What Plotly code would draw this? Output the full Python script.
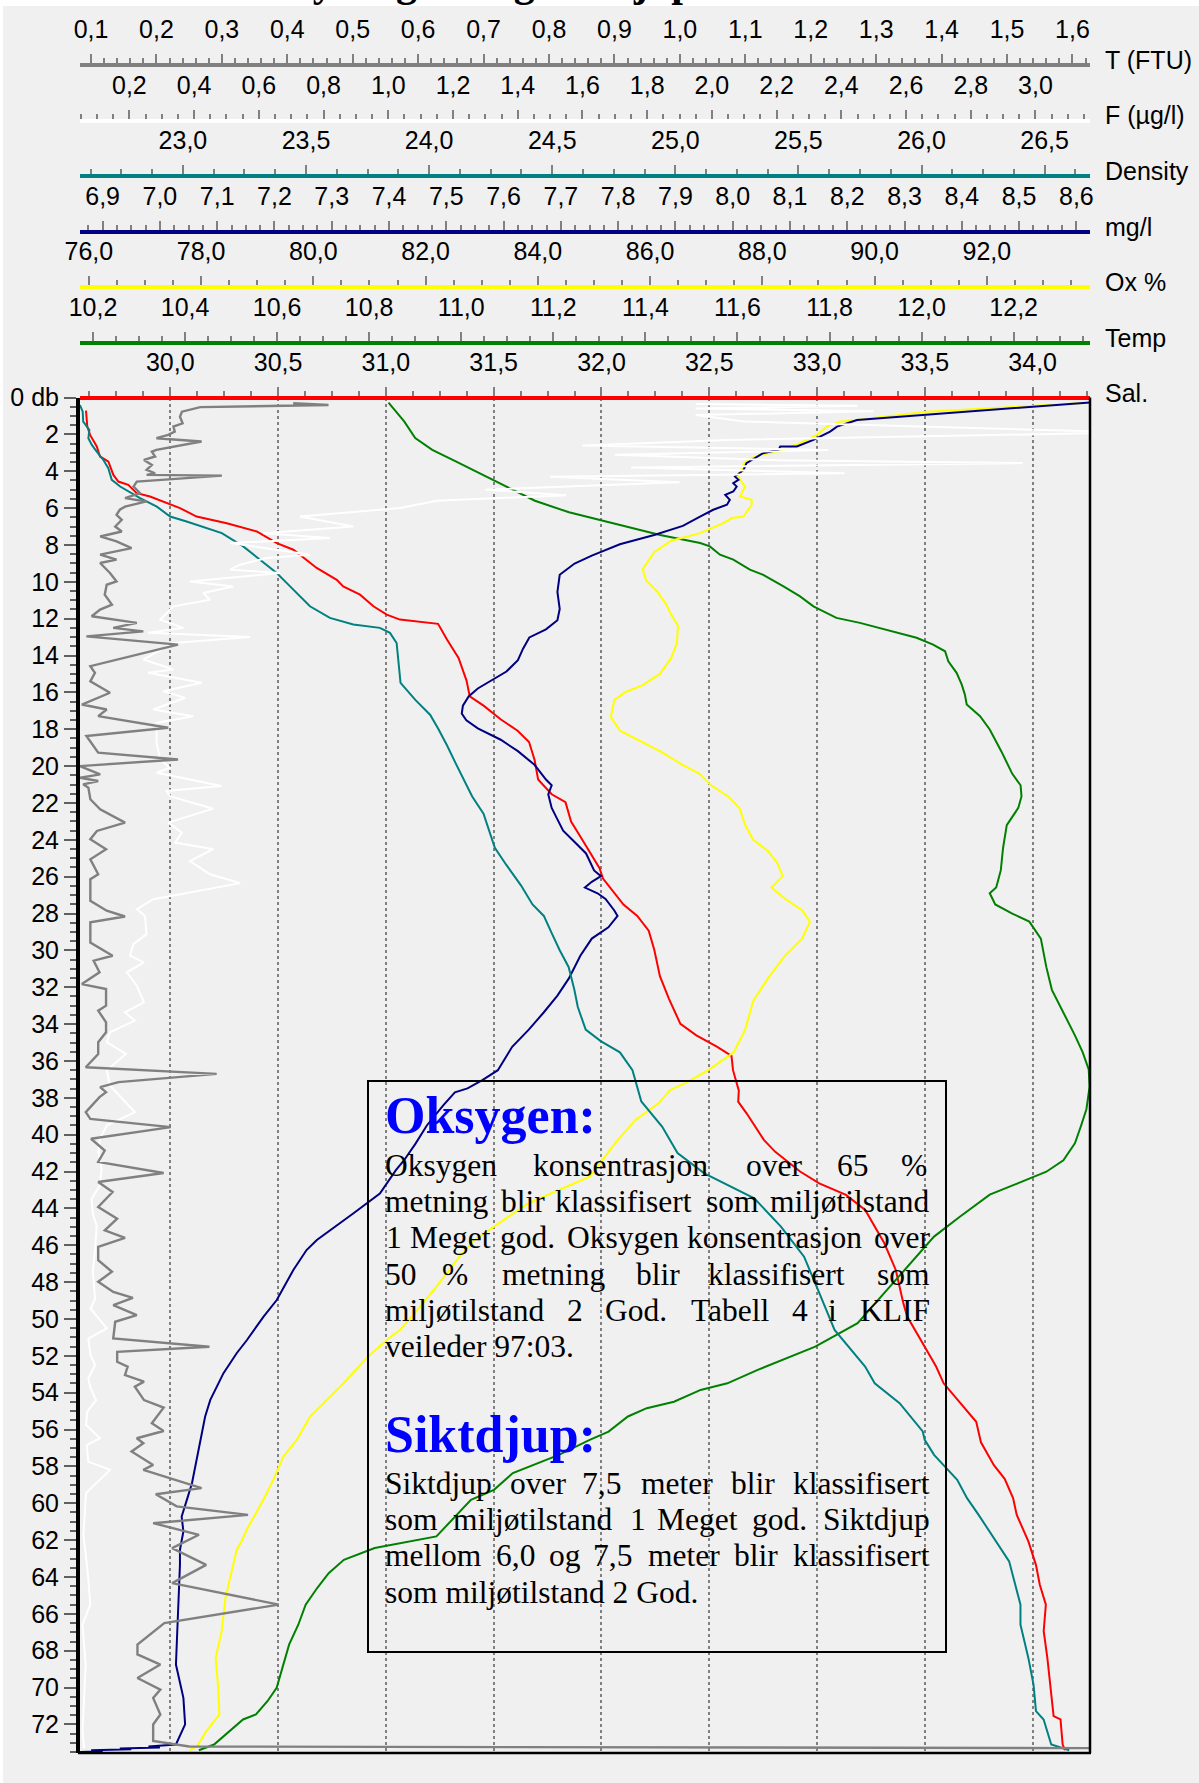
import plotly.graph_objects as go

W, H = 1199, 1783

# ---------------- data: (depth [db], value) ----------------
SAL = [(0.71, 29.609), (1.58, 29.615), (2.03, 29.628), (2.66, 29.659), (3.2, 29.674), (3.48, 29.713),
       (4.2, 29.736), (4.56, 29.759), (4.74, 29.805), (5.19, 29.844), (5.37, 29.906), (5.73, 29.983),
       (6.0, 30.045), (6.46, 30.122), (6.82, 30.262), (7.27, 30.401), (7.9, 30.494), (8.26, 30.571),
       (9.25, 30.679), (9.89, 30.772), (10.25, 30.802), (10.7, 30.880), (11.33, 30.942), (11.78, 31.004),
       (12.05, 31.065), (12.28, 31.242), (13.14, 31.284), (14.13, 31.337), (15.36, 31.374), (16.22, 31.389),
       (16.72, 31.453), (17.46, 31.532), (18.08, 31.611), (18.69, 31.664), (19.68, 31.690), (20.73, 31.706),
       (21.53, 31.769), (21.96, 31.833), (23.01, 31.859), (23.81, 31.901), (24.61, 31.944), (25.54, 31.991),
       (26.1, 32.007), (26.9, 32.06), (27.51, 32.102), (28.13, 32.166), (28.93, 32.219), (29.98, 32.245),
       (31.4, 32.271), (32.63, 32.313), (33.99, 32.366), (34.61, 32.44), (35.22, 32.535), (35.72, 32.603),
       (36.5, 32.61), (37.61, 32.637), (38.21, 32.634), (38.84, 32.673), (40.28, 32.753), (40.93, 32.806),
       (41.65, 32.886), (42.0, 32.921), (42.64, 33.01), (43.27, 33.134), (44.08, 33.223), (45.89, 33.312),
       (47.34, 33.365), (49.14, 33.40), (49.87, 33.418), (51.5, 33.498), (52.58, 33.552), (53.49, 33.587),
       (54.57, 33.663), (55.58, 33.738), (56.69, 33.76), (57.93, 33.82), (58.67, 33.87), (59.72, 33.909),
       (60.63, 33.926), (62.07, 33.98), (63.34, 34.015), (64.42, 34.033), (65.5, 34.061), (66.94, 34.051),
       (68.39, 34.068), (70.2, 34.086), (71.55, 34.097), (71.73, 34.129), (73.09, 34.139), (73.4, 34.15)]

TEMP = [(0.28, 10.842), (1.3, 10.876), (2.2, 10.90), (2.84, 10.937), (3.45, 10.987), (4.07, 11.036),
        (4.69, 11.085), (5.3, 11.135), (5.6, 11.16), (6.23, 11.234), (6.54, 11.283), (6.85, 11.333),
        (7.16, 11.382), (7.46, 11.432), (7.9, 11.519), (8.08, 11.54), (8.53, 11.562), (8.8, 11.591),
        (9.34, 11.627), (9.62, 11.656), (10.25, 11.7), (10.79, 11.736), (11.33, 11.765), (11.96, 11.815),
        (12.23, 11.866), (12.69, 11.938), (13.04, 11.989), (13.41, 12.025), (13.77, 12.051), (14.31, 12.058),
        (14.94, 12.076), (15.57, 12.087), (16.12, 12.094), (16.66, 12.098), (17.29, 12.127), (18.01, 12.148),
        (19.19, 12.173), (20.42, 12.197), (21.04, 12.215), (21.65, 12.217), (22.27, 12.21), (23.2, 12.185),
        (24.43, 12.177), (25.66, 12.172), (26.59, 12.162), (26.9, 12.148), (27.51, 12.16), (28.0, 12.197),
        (28.44, 12.234), (29.36, 12.259), (30.91, 12.271), (32.14, 12.283), (33.37, 12.308), (34.61, 12.333),
        (35.53, 12.35), (36.46, 12.363), (37.38, 12.365), (38.62, 12.358), (39.54, 12.346), (40.47, 12.333),
        (41.39, 12.308), (42.01, 12.271), (42.63, 12.21), (43.25, 12.148), (44.45, 12.083), (45.53, 12.027),
        (47.88, 11.944), (50.23, 11.861), (51.5, 11.769), (52.76, 11.644), (53.49, 11.578), (53.85, 11.52),
        (54.49, 11.462), (54.84, 11.403), (55.29, 11.362), (56.11, 11.32), (56.56, 11.279), (57.37, 11.212),
        (58.36, 11.112), (59.27, 11.071), (59.81, 11.021), (61.8, 10.946), (62.43, 10.812), (63.07, 10.745),
        (63.79, 10.712), (64.6, 10.687), (65.5, 10.662), (66.59, 10.646), (67.67, 10.626), (68.75, 10.613),
        (70.01, 10.599), (70.74, 10.579), (71.46, 10.554), (71.73, 10.526), (72.55, 10.488), (73.09, 10.463),
        (73.4, 10.43)]

OX = [(0.28, 93.9), (0.77, 90.928), (1.22, 89.681), (1.31, 89.384), (1.58, 89.147), (2.03, 88.969),
      (2.48, 88.671), (2.94, 88.255), (3.11, 87.958), (3.39, 87.721), (3.66, 87.661), (4.2, 87.572),
      (4.47, 87.602), (4.83, 87.691), (5.37, 87.602), (5.55, 87.81), (5.82, 87.81), (6.46, 87.661),
      (6.54, 87.454), (6.82, 87.304), (7.36, 86.889), (7.77, 86.376), (8.39, 86.072), (9.32, 85.869),
      (9.93, 85.93), (10.55, 86.133), (11.17, 86.275), (11.78, 86.376), (12.4, 86.498), (13.33, 86.477),
      (14.13, 86.376), (15.0, 86.173), (15.61, 85.869), (15.98, 85.565), (16.41, 85.362), (17.34, 85.301),
      (18.08, 85.463), (18.57, 85.767), (19.19, 86.173), (19.93, 86.578), (20.42, 86.882), (21.04, 87.085),
      (21.65, 87.39), (22.27, 87.593), (23.2, 87.694), (24.0, 87.836), (24.61, 88.099), (25.23, 88.261),
      (25.97, 88.363), (26.59, 88.16), (27.2, 88.403), (27.82, 88.707), (28.44, 88.849), (29.36, 88.707),
      (30.29, 88.403), (31.52, 88.099), (32.76, 87.836), (34.3, 87.694), (35.53, 87.491), (36.5, 87.036),
      (37.2, 86.627), (37.58, 86.356), (38.3, 86.151), (39.2, 85.739), (40.38, 85.399), (42.28, 84.923),
      (43.0, 84.377), (43.72, 83.832), (44.99, 83.22), (45.71, 82.877), (46.62, 82.604), (48.25, 82.195),
      (49.51, 81.854), (50.6, 81.544), (50.96, 81.378), (52.0, 80.99), (53.5, 80.534), (54.4, 80.238),
      (55.3, 79.941), (56.56, 79.704), (57.47, 79.465), (58.73, 79.287), (59.81, 79.109), (61.44, 78.813),
      (62.07, 78.72), (62.52, 78.635), (63.34, 78.573), (65.14, 78.435), (66.94, 78.368), (68.39, 78.259),
      (69.84, 78.30), (71.46, 78.327), (72.36, 78.095), (73.17, 77.931), (73.4, 77.8)]

MGL = [(0.25, 8.63), (1.22, 8.217), (1.58, 8.182), (1.85, 8.17), (2.3, 8.141), (2.66, 8.112), (2.66, 8.083),
       (2.84, 8.08), (3.02, 8.053), (3.56, 8.024), (3.93, 8.019), (4.2, 8.007), (4.29, 8.004), (4.47, 8.01),
       (4.65, 8.001), (4.83, 8.007), (5.1, 8.001), (5.28, 7.987), (5.55, 7.995), (5.82, 7.99), (6.09, 7.966),
       (6.46, 7.943), (6.97, 7.913), (7.46, 7.863), (7.96, 7.803), (8.58, 7.754), (9.01, 7.724), (9.62, 7.698),
       (10.55, 7.694), (11.47, 7.698), (12.09, 7.694), (12.58, 7.674), (13.02, 7.645), (13.63, 7.634),
       (14.25, 7.625), (14.87, 7.605), (15.36, 7.579), (15.79, 7.555), (16.22, 7.539), (16.72, 7.529),
       (17.15, 7.527), (17.52, 7.535), (17.95, 7.555), (18.57, 7.595), (19.19, 7.625), (19.93, 7.654),
       (20.73, 7.674), (21.04, 7.684), (21.53, 7.678), (22.27, 7.684), (22.89, 7.694), (23.5, 7.704),
       (24.12, 7.724), (24.74, 7.744), (25.66, 7.758), (25.97, 7.77), (26.28, 7.754), (26.59, 7.742),
       (26.9, 7.764), (27.21, 7.778), (27.82, 7.793), (28.13, 7.799), (28.75, 7.783), (29.36, 7.754),
       (30.29, 7.734), (31.52, 7.714), (32.45, 7.694), (33.37, 7.67), (34.3, 7.644), (35.23, 7.615),
       (36.5, 7.59), (37.04, 7.563), (37.49, 7.537), (37.7, 7.515), (38.4, 7.495), (39.5, 7.466),
       (40.5, 7.446), (41.4, 7.426), (41.92, 7.412), (43.2, 7.384), (44.26, 7.338), (45.17, 7.297),
       (45.71, 7.274), (46.26, 7.256), (46.8, 7.245), (47.34, 7.233), (48.97, 7.204), (49.87, 7.181),
       (51.14, 7.152), (51.86, 7.134), (52.94, 7.111), (54.39, 7.088), (55.29, 7.079), (56.74, 7.07),
       (58.01, 7.061), (58.91, 7.056), (59.72, 7.048), (60.72, 7.038), (61.53, 7.041), (62.52, 7.035),
       (63.34, 7.035), (66.94, 7.031), (68.75, 7.028), (70.56, 7.041), (72.0, 7.044), (73.09, 7.028),
       (73.2, 6.98), (73.25, 7.0), (73.3, 6.93), (73.35, 6.95), (73.4, 6.88), (73.45, 6.9), (73.5, 6.86)]

DENS = [(0.41, 22.582), (0.77, 22.593), (1.31, 22.595), (1.76, 22.62), (2.21, 22.616), (2.57, 22.63),
        (2.94, 22.65), (3.39, 22.677), (3.84, 22.697), (4.47, 22.711), (4.83, 22.745), (5.1, 22.778),
        (5.46, 22.826), (5.92, 22.894), (6.46, 22.948), (6.73, 23.015), (7.36, 23.158), (8.08, 23.245),
        (8.98, 23.327), (9.52, 23.381), (10.07, 23.422), (10.43, 23.448), (11.33, 23.516), (11.96, 23.597),
        (12.32, 23.692), (12.5, 23.80), (12.77, 23.841), (13.32, 23.868), (14.22, 23.875), (15.48, 23.884),
        (16.41, 23.944), (17.21, 24.004), (17.95, 24.036), (18.88, 24.073), (19.8, 24.106), (20.73, 24.142),
        (21.65, 24.175), (22.58, 24.221), (23.5, 24.244), (24.43, 24.267), (25.35, 24.313), (26.47, 24.373),
        (27.51, 24.42), (28.13, 24.466), (29.06, 24.498), (29.98, 24.53), (30.91, 24.567), (32.14, 24.59),
        (33.07, 24.604), (34.3, 24.636), (34.92, 24.697), (35.53, 24.775), (36.5, 24.826), (38.2, 24.862),
        (39.57, 24.947), (41.0, 25.009), (42.1, 25.118), (42.73, 25.212), (43.45, 25.321), (44.99, 25.429),
        (46.62, 25.523), (48.6, 25.585), (50.59, 25.647), (52.58, 25.771), (53.49, 25.81), (54.57, 25.911),
        (56.1, 26.005), (56.56, 26.013), (57.37, 26.051), (58.73, 26.145), (59.72, 26.185), (60.63, 26.232),
        (61.89, 26.294), (63.15, 26.356), (65.5, 26.402), (66.59, 26.402), (68.39, 26.434), (69.84, 26.455),
        (71.28, 26.465), (71.73, 26.496), (73.09, 26.527), (73.4, 26.6)]

FLUO = [(0.35, 1.95), (0.45, 2.45), (0.6, 1.95), (0.75, 2.5), (0.95, 1.95), (1.3, 2.1), (1.9, 3.3),
        (2.3, 2.05), (2.6, 1.6), (2.85, 2.36), (3.1, 1.7), (3.4, 2.2), (3.56, 2.96), (3.8, 1.75),
        (4.11, 2.41), (4.3, 1.5), (4.6, 1.9), (5.0, 1.3), (5.3, 1.55), (5.6, 1.15), (6.0, 1.036),
        (6.46, 0.727), (7.0, 0.892), (7.36, 0.614), (7.63, 0.82), (7.9, 0.511), (8.53, 0.758), (8.71, 0.624),
        (9.07, 0.542), (9.34, 0.511), (9.52, 0.665), (9.98, 0.387), (10.25, 0.521), (10.61, 0.428),
        (10.97, 0.449), (11.33, 0.336), (12.05, 0.295), (12.5, 0.367), (12.77, 0.258), (12.99, 0.573),
        (13.32, 0.336), (14.22, 0.243), (14.76, 0.336), (14.94, 0.258), (15.48, 0.423), (15.94, 0.305),
        (16.29, 0.372), (16.93, 0.274), (17.29, 0.397), (17.65, 0.284), (18.73, 0.284), (19.64, 0.295),
        (20.09, 0.325), (20.36, 0.284), (21.08, 0.485), (21.35, 0.315), (21.63, 0.325), (22.31, 0.459),
        (23.07, 0.320), (23.61, 0.362), (24.15, 0.341), (24.51, 0.459), (25.15, 0.387), (25.87, 0.449),
        (26.35, 0.542), (27.22, 0.274), (27.76, 0.223), (28.13, 0.248), (29.12, 0.253), (29.66, 0.212),
        (30.29, 0.202), (30.65, 0.245), (31.19, 0.192), (31.92, 0.223), (32.82, 0.245), (33.36, 0.186),
        (33.81, 0.217), (34.44, 0.14), (34.98, 0.13), (35.62, 0.189), (36.52, 0.13), (37.33, 0.14),
        (38.78, 0.217), (39.5, 0.13), (40.22, 0.109), (40.94, 0.104), (41.85, 0.114), (42.75, 0.109),
        (43.47, 0.083), (44.38, 0.088), (44.92, 0.099), (45.82, 0.097), (46.18, 0.094), (47.44, 0.087),
        (48.9, 0.094), (49.43, 0.080), (50.51, 0.13), (51.06, 0.073), (51.96, 0.080), (52.5, 0.094),
        (53.22, 0.073), (53.76, 0.080), (54.4, 0.097), (55.03, 0.070), (55.75, 0.066), (56.47, 0.109),
        (56.84, 0.068), (57.74, 0.073), (58.19, 0.14), (59.45, 0.066), (60.63, 0.063), (61.71, 0.058),
        (63.88, 0.072), (65.5, 0.079), (66.59, 0.055), (68.75, 0.065), (70.56, 0.06), (72.36, 0.055),
        (73.3, 0.06)]

TURB = [(0.31, 0.409), (0.41, 0.463), (0.52, 0.267), (0.77, 0.239), (1.04, 0.236), (1.4, 0.240),
        (1.58, 0.226), (1.85, 0.228), (2.03, 0.218), (2.21, 0.200), (2.39, 0.269), (2.84, 0.200),
        (2.94, 0.193), (3.2, 0.198), (3.39, 0.181), (3.66, 0.193), (3.93, 0.185), (4.11, 0.198),
        (4.2, 0.185), (4.24, 0.300), (4.56, 0.170), (4.83, 0.165), (5.19, 0.175), (5.46, 0.152),
        (5.64, 0.185), (5.92, 0.152), (6.09, 0.144), (6.37, 0.139), (6.64, 0.147), (7.0, 0.137),
        (7.27, 0.147), (7.54, 0.114), (7.81, 0.139), (8.17, 0.162), (8.53, 0.114), (8.8, 0.139),
        (8.98, 0.114), (9.52, 0.129), (9.98, 0.139), (10.16, 0.124), (10.7, 0.121), (11.24, 0.132),
        (11.51, 0.114), (11.87, 0.101), (12.23, 0.170), (12.5, 0.134), (12.69, 0.180), (12.96, 0.093),
        (13.41, 0.233), (14.58, 0.099), (14.94, 0.106), (15.4, 0.099), (16.02, 0.129), (16.66, 0.086),
        (16.93, 0.124), (17.29, 0.111), (17.92, 0.218), (18.37, 0.093), (19.27, 0.111), (19.64, 0.233),
        (20.0, 0.083), (20.45, 0.114), (20.63, 0.083), (20.81, 0.111), (20.99, 0.088), (21.17, 0.096),
        (21.8, 0.099), (22.35, 0.114), (23.07, 0.152), (23.52, 0.109), (23.97, 0.099), (24.51, 0.123),
        (25.06, 0.099), (25.87, 0.111), (26.14, 0.099), (27.31, 0.099), (27.85, 0.124), (28.16, 0.152),
        (28.48, 0.099), (29.57, 0.099), (30.29, 0.133), (30.56, 0.104), (31.19, 0.113), (31.83, 0.086),
        (32.1, 0.123), (33.0, 0.123), (33.27, 0.111), (33.9, 0.123), (34.44, 0.123), (34.98, 0.111),
        (35.62, 0.111), (36.34, 0.092), (36.7, 0.292), (37.15, 0.142), (37.42, 0.114), (37.69, 0.123),
        (37.96, 0.113), (38.78, 0.092), (39.14, 0.099), (39.59, 0.222), (40.22, 0.100), (40.86, 0.121),
        (41.48, 0.111), (42.08, 0.211), (42.57, 0.111), (43.11, 0.133), (43.92, 0.111), (44.56, 0.140),
        (45.19, 0.121), (45.6, 0.152), (46.09, 0.111), (46.81, 0.111), (47.44, 0.132), (47.98, 0.111),
        (48.53, 0.134), (48.85, 0.164), (49.25, 0.134), (49.79, 0.170), (50.15, 0.137), (51.06, 0.134),
        (51.51, 0.281), (51.78, 0.140), (52.32, 0.140), (52.59, 0.156), (53.04, 0.152), (53.4, 0.181),
        (53.67, 0.167), (54.4, 0.181), (54.81, 0.211), (55.66, 0.193), (56.08, 0.211), (56.47, 0.170),
        (56.74, 0.180), (57.19, 0.162), (57.92, 0.195), (58.19, 0.180), (59.18, 0.269), (59.51, 0.199),
        (60.17, 0.231), (60.63, 0.340), (61.08, 0.195), (61.71, 0.265), (62.43, 0.224), (63.34, 0.276),
        (64.33, 0.224), (65.5, 0.387), (66.5, 0.212), (67.67, 0.171), (68.2, 0.171), (68.75, 0.206),
        (69.48, 0.171), (70.11, 0.206), (70.56, 0.195), (71.46, 0.206), (72.0, 0.195), (72.9, 0.195),
        (73.2, 0.25), (73.3, 1.9)]

DEPTH_TICKS = list(range(0, 73, 2))
DEPTH_LABELS = ["0 db"] + [str(v) for v in DEPTH_TICKS[1:]]

# axis definitions: name, label, colour, line y (px), range, dtick, minor dtick
AXES = [
    ("x7", "T (FTU)", "#808080", 65.0, [0.08319, 1.6268], 0.1, 0.02),
    ("x6", "F (µg/l)", "#FFFFFF", 120.5, [0.04734, 3.1685], 0.2, 0.05),
    ("x5", "Density", "#008080", 176.0, [22.582, 26.6844], 0.5, 0.125),
    ("x4", "mg/l", "#000080", 231.7, [6.8605, 8.6238], 0.1, 0.025),
    ("x3", "Ox %", "#FFFF00", 287.0, [75.8432, 93.8372], 2.0, 0.5),
    ("x2", "Temp", "#008000", 342.7, [10.1718, 12.3658], 0.2, 0.05),
    ("x", "Sal.", "#FF0000", 397.5, [29.5812, 34.2658], 0.5, 0.125),
]

SERIES = [
    (FLUO, "x6", "#FFFFFF", 2),
    (TURB, "x7", "#808080", 2.4),
    (SAL, "x", "#FF0000", 2),
    (TEMP, "x2", "#008000", 2),
    (OX, "x3", "#FFFF00", 2),
    (MGL, "x4", "#000080", 2),
    (DENS, "x5", "#008080", 2),
]

TITLE = "Hydrografi og siktdjup"

# ---------------- layout geometry (pixels) ----------------
PL, PR, PT, PB = 80, 1090, 397.5, 1753
DEPTH_MAX = 73.55
SANS = "Liberation Sans, Arial, sans-serif"
SERIF = "Liberation Serif, Times New Roman, serif"
LBL = 25


def fx(p):
    return p / W


def fy(p):
    return 1 - p / H


fig = go.Figure()

for data, ax, col, lw in SERIES:
    fig.add_trace(go.Scatter(
        x=[v for d, v in data], y=[d for d, v in data],
        xaxis=ax, yaxis="y", mode="lines",
        line=dict(color=col, width=lw), showlegend=False, hoverinfo="skip"))

layout = dict(
    width=W, height=H,
    margin=dict(l=0, r=0, t=0, b=0, pad=0, autoexpand=False),
    paper_bgcolor="#F0F0F0", plot_bgcolor="#F0F0F0",
    separators=", ",
    font=dict(family=SANS, size=LBL, color="black"),
    showlegend=False,
)

for name, label, col, ly, rng, dt, mdt in AXES:
    key = "xaxis" if name == "x" else "xaxis" + name[1:]
    ax = dict(
        domain=[fx(PL), fx(PR)], range=rng, anchor="free", position=fy(ly), side="top",
        showline=True, linecolor=col, linewidth=4, automargin=False,
        ticks="outside", ticklen=9, tickwidth=1.5, tickcolor="#808080",
        tick0=0, dtick=dt, tickformat=".1f",
        tickfont=dict(family=SANS, size=LBL, color="black"),
        ticklabelstandoff=6,
        zeroline=False, showgrid=False, fixedrange=True,
        minor=dict(tick0=0, dtick=mdt, ticks="outside", ticklen=5, tickwidth=1.5,
                   tickcolor="#808080", showgrid=False),
    )
    if name != "x":
        ax["overlaying"] = "x"
    else:
        ax.update(showgrid=True, gridcolor="#808080", griddash="dot", gridwidth=1.5)
    layout[key] = ax

layout["yaxis"] = dict(
    domain=[fy(PB), fy(PT)], range=[DEPTH_MAX, 0], anchor="x", automargin=False,
    showline=True, linecolor="black", linewidth=4,
    tickmode="array", tickvals=DEPTH_TICKS, ticktext=DEPTH_LABELS,
    ticks="outside", ticklen=12, tickwidth=1.5, tickcolor="#606060",
    tickfont=dict(family=SANS, size=LBL, color="black"),
    showgrid=False, zeroline=False, fixedrange=True,
    minor=dict(tickmode="linear", tick0=0, dtick=0.5, ticks="outside", ticklen=6,
               tickwidth=1.5, tickcolor="#606060", showgrid=False),
)

fig.update_layout(**layout)

# page band at the top / left (cropped document)
fig.add_shape(type="rect", xref="paper", yref="paper", x0=0, x1=1, y0=fy(6), y1=1.01,
              line=dict(width=0), fillcolor="white", layer="below")
fig.add_shape(type="rect", xref="paper", yref="paper", x0=-0.01, x1=fx(3), y0=-0.01, y1=1.01,
              line=dict(width=0), fillcolor="white", layer="below")

# plot frame (right and bottom)
fig.add_shape(type="line", xref="paper", yref="paper", x0=fx(PR), x1=fx(PR), y0=fy(PB), y1=fy(PT),
              line=dict(color="black", width=2.5))
fig.add_shape(type="line", xref="paper", yref="paper", x0=fx(PL - 2), x1=fx(PR + 1), y0=fy(PB), y1=fy(PB),
              line=dict(color="black", width=2.5))

# axis names at the right
for name, label, col, ly, rng, dt, mdt in AXES:
    fig.add_annotation(text=label, xref="paper", yref="paper", x=fx(1104), y=fy(ly - 5),
                       xanchor="left", yanchor="middle", showarrow=False, borderpad=0,
                       font=dict(family=SANS, size=LBL, color="black"))

BODY = 31.5
HEAD = 52
LEFT = 385
RIGHT = 930


def put(text, x, baseline, size, anchor="left", color="black", bold=False):
    t = "<b>" + text + "</b>" if bold else text
    fig.add_annotation(text=t, xref="paper", yref="paper", x=fx(x),
                       y=fy(baseline - 0.3375 * size), xanchor=anchor, yanchor="middle",
                       showarrow=False, borderpad=0, borderwidth=0,
                       font=dict(family=SERIF, size=size, color=color))


# cropped title of the page: only the descenders reach into the picture
put(TITLE, 280, -3.5, 42, bold=True)

# text box
fig.add_shape(type="rect", xref="paper", yref="paper", x0=fx(368), x1=fx(946), y0=fy(1652), y1=fy(1081),
              line=dict(color="black", width=2), fillcolor="rgba(0,0,0,0)", layer="above")

put("Oksygen:", LEFT, 1133.3, HEAD, color="#0000FF", bold=True)
put("Siktdjup:", LEFT, 1451.7, HEAD, color="#0000FF", bold=True)

OKS_LINES = [
    ([("Oksygen", 384.9), ("konsentrasjon", 533), ("over", 745.8), ("65", 836.5)], "%", 927),
    ([("metning", 384.9), ("blir", 500.8), ("klassifisert", 555.2), ("som", 706.4)], "miljøtilstand", RIGHT),
    ([("1", 386), ("Meget", 409.8), ("god.", 499.7), ("Oksygen", 566.7), ("konsentrasjon", 687.2)], "over", RIGHT),
    ([("50", 384.9), ("%", 442.3), ("metning", 501.6), ("blir", 635.5), ("klassifisert", 708.3)], "som", RIGHT),
    ([("miljøtilstand", 384.9), ("2", 566.7), ("God.", 604.9), ("Tabell", 691), ("4", 791.7), ("i", 827.7)], "KLIF", RIGHT),
    ([("veileder 97:03.", 384.9)], None, None),
]
SIKT_LINES = [
    ([("Siktdjup", 384.9), ("over", 510.4), ("7,5", 582), ("meter", 641.3), ("blir", 731.2)], "klassifisert", RIGHT),
    ([("som", 384.9), ("miljøtilstand", 453), ("1", 629.8), ("Meget", 656.6), ("god.", 752.3)], "Siktdjup", RIGHT),
    ([("mellom", 384.9), ("6,0", 495.9), ("og", 548.7), ("7,5", 593.4), ("meter", 647.8), ("blir", 734.3)], "klassifisert", RIGHT),
    ([("som miljøtilstand 2 God.", 384.9)], None, None),
]

for lines, base0 in ((OKS_LINES, 1176.0), (SIKT_LINES, 1494.0)):
    for i, (words, last, lx) in enumerate(lines):
        b = base0 + i * 36.3
        for w, x in words:
            put(w, x, b, BODY)
        if last:
            put(last, lx, b, BODY, anchor="right")

fig.write_html("out.html", config={"displayModeBar": False},
               post_script="document.body.style.margin='0';document.body.style.overflow='hidden';")
